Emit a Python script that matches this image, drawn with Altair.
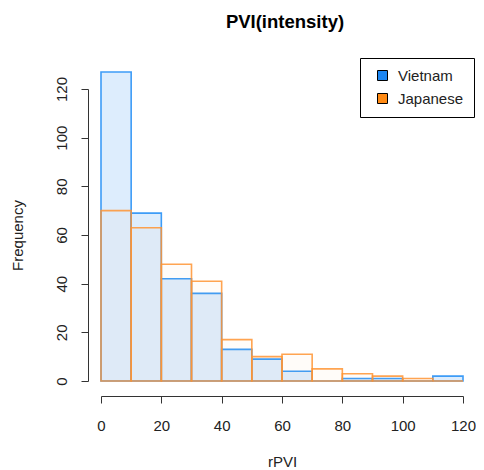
import altair as alt
import pandas as pd

bin_start = [0, 10, 20, 30, 40, 50, 60, 70, 80, 90, 100, 110]
bin_end = [10, 20, 30, 40, 50, 60, 70, 80, 90, 100, 110, 120]
vietnam = [127, 69, 42, 36, 13, 9, 4, 0, 1, 1, 0, 2]
japanese = [70, 63, 48, 41, 17, 10, 11, 5, 3, 2, 1, 0]
series = ["Vietnam", "Japanese"]
legend_colors = ["#1c86f2", "#ff8a14"]
x_ticks = [0, 20, 40, 60, 80, 100, 120]
y_ticks = [0, 20, 40, 60, 80, 100, 120]

FONT = "Liberation Sans"

df_v = pd.DataFrame({"start": bin_start, "end": bin_end, "count": vietnam})
df_j = pd.DataFrame({"start": bin_start, "end": bin_end, "count": japanese})
df_leg = pd.DataFrame({"series": series})

x_scale = alt.Scale(domain=[0, 120], nice=False, zero=False)
y_scale = alt.Scale(domain=[0, 120], nice=False)

x_axis = alt.Axis(values=x_ticks, title="rPVI", offset=15, grid=False,
                  tickSize=7, labelPadding=15, titlePadding=21,
                  labelFontSize=15, titleFontSize=15, labelFont=FONT, titleFont=FONT,
                  titleFontWeight="normal", labelColor="#222", titleColor="#222",
                  domainColor="#333", tickColor="#333", labelFlush=False)
y_axis = alt.Axis(values=y_ticks, title="Frequency", offset=13, grid=False,
                  tickSize=7, labelPadding=12, titlePadding=29, labelAngle=270,
                  labelFontSize=15, titleFontSize=15, labelFont=FONT, titleFont=FONT,
                  titleFontWeight="normal", labelColor="#222", titleColor="#222",
                  domainColor="#333", tickColor="#333", labelFlush=False)

bars_v = alt.Chart(df_v).mark_rect(fill="#ddedfd", stroke="#3d9cf7", strokeWidth=1.6).encode(
    x=alt.X("start:Q", scale=x_scale, axis=x_axis),
    x2="end:Q",
    y=alt.Y("count:Q", scale=y_scale, axis=y_axis),
    y2=alt.datum(0),
)

bars_j = alt.Chart(df_j).mark_rect(fill="#ff9a33", fillOpacity=0.03,
                                   stroke="#ff9433", strokeOpacity=0.85, strokeWidth=1.6).encode(
    x=alt.X("start:Q", scale=x_scale),
    x2="end:Q",
    y=alt.Y("count:Q", scale=y_scale),
    y2=alt.datum(0),
)

legend_layer = alt.Chart(df_leg).mark_point(shape="square", filled=True, opacity=0,
                                            stroke="black", strokeWidth=1).encode(
    color=alt.Color("series:N", scale=alt.Scale(domain=series, range=legend_colors),
                    legend=alt.Legend(title=None, orient="none", legendX=259, legendY=-31,
                                      strokeColor="black", fillColor="white", padding=10,
                                      cornerRadius=0, symbolType="square", symbolSize=100,
                                      symbolStrokeColor="black", symbolStrokeWidth=1,
                                      symbolOpacity=1, symbolOffset=5, labelOffset=8,
                                      labelFontSize=15, labelFont=FONT, labelColor="#222",
                                      rowPadding=7))
)

chart = alt.layer(bars_v, bars_j, legend_layer).properties(
    width=362,
    height=292,
    autosize=alt.AutoSizeParams(type="none"),
    padding={"left": 93, "top": 81, "right": 13, "bottom": 88},
    title=alt.Title("PVI(intensity)", fontSize=18.5, fontWeight="bold", font=FONT,
                    anchor="middle", frame="group", offset=26, dx=3, color="black"),
).configure_view(stroke=None)

chart.save("out.html", embed_options={"renderer": "svg", "actions": False})
